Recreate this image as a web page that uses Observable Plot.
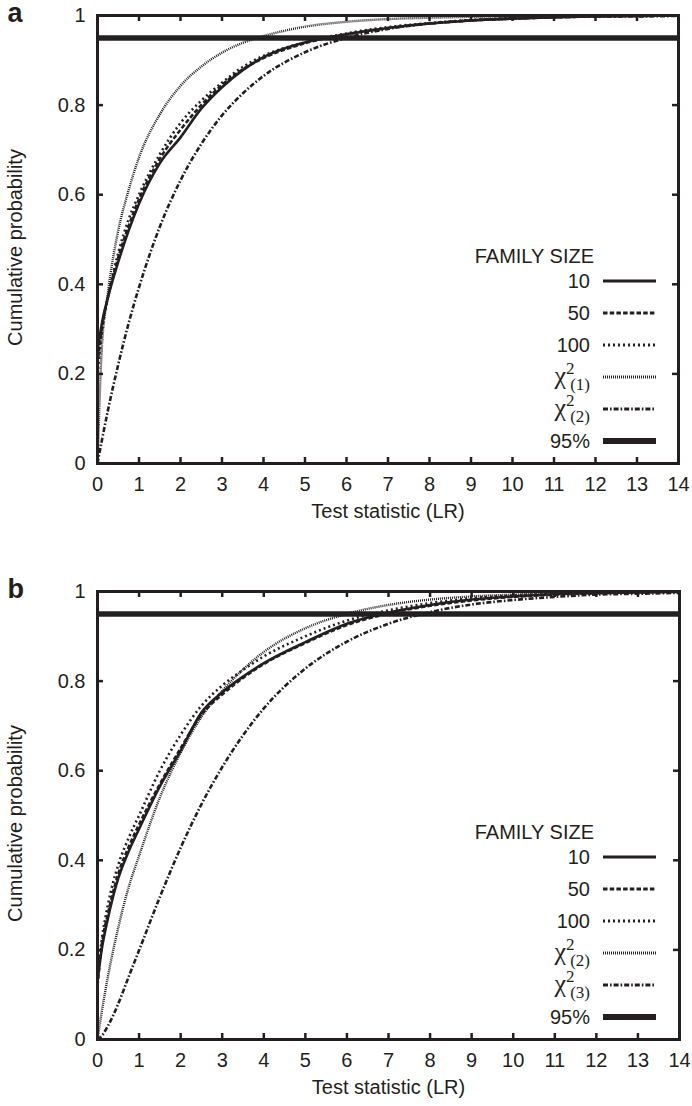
<!DOCTYPE html>
<html><head><meta charset="utf-8">
<script src="https://cdn.jsdelivr.net/npm/d3@7"></script>
<script src="https://cdn.jsdelivr.net/npm/@observablehq/plot@0.6"></script>
<style>
body{margin:0;background:#fff;}
#chart svg{display:block;}
</style>
</head><body><div id="chart"></div>
<script>
// ---------- data ----------
const xs = [0, 0.1, 0.25, 0.5, 0.75, 1, 1.5, 2, 2.5, 3, 3.5, 4, 5, 6, 7, 8, 9, 10, 11, 12, 13, 14];

// panel a
const aSize10  = [0.25, 0.31, 0.37, 0.45, 0.52, 0.58, 0.67, 0.728, 0.792, 0.84, 0.878, 0.907, 0.94, 0.958, 0.972, 0.982, 0.989, 0.993, 0.996, 0.998, 0.999, 1.0];
const aSize50  = [0.22, 0.30, 0.37, 0.46, 0.53, 0.59, 0.68, 0.745, 0.80, 0.845, 0.88, 0.905, 0.938, 0.958, 0.972, 0.982, 0.989, 0.993, 0.996, 0.998, 0.999, 1.0];
const aSize100 = [0.20, 0.29, 0.37, 0.47, 0.545, 0.60, 0.69, 0.76, 0.81, 0.85, 0.885, 0.91, 0.94, 0.96, 0.974, 0.983, 0.99, 0.994, 0.996, 0.998, 0.999, 1.0];
const aChi1    = [0, 0.25, 0.38, 0.52, 0.61, 0.683, 0.779, 0.843, 0.886, 0.917, 0.939, 0.954, 0.975, 0.986, 0.992, 0.995, 0.997, 0.998, 0.999, 0.9995, 0.9997, 1.0];
const aChi2    = [0, 0.049, 0.118, 0.221, 0.313, 0.393, 0.528, 0.632, 0.713, 0.777, 0.826, 0.865, 0.918, 0.95, 0.97, 0.982, 0.989, 0.993, 0.996, 0.998, 0.998, 0.999];

// panel b
const bSize10  = [0.13, 0.20, 0.27, 0.36, 0.42, 0.47, 0.565, 0.645, 0.73, 0.775, 0.81, 0.84, 0.887, 0.928, 0.953, 0.97, 0.982, 0.989, 0.994, 0.997, 0.998, 1.0];
const bSize50  = [0.12, 0.21, 0.28, 0.37, 0.43, 0.48, 0.57, 0.65, 0.725, 0.77, 0.807, 0.838, 0.885, 0.925, 0.951, 0.968, 0.98, 0.988, 0.993, 0.996, 0.998, 0.999];
const bSize100 = [0.14, 0.22, 0.30, 0.39, 0.45, 0.50, 0.60, 0.68, 0.745, 0.79, 0.825, 0.855, 0.90, 0.935, 0.958, 0.974, 0.985, 0.991, 0.995, 0.997, 0.999, 1.0];
const bChi2    = [0, 0.06, 0.14, 0.25, 0.34, 0.41, 0.54, 0.64, 0.72, 0.778, 0.826, 0.865, 0.918, 0.95, 0.97, 0.982, 0.989, 0.993, 0.996, 0.998, 0.999, 0.999];
const bChi3    = [0, 0.008, 0.03, 0.08, 0.14, 0.199, 0.318, 0.428, 0.525, 0.608, 0.679, 0.739, 0.828, 0.888, 0.928, 0.954, 0.971, 0.981, 0.988, 0.993, 0.995, 0.997];

const cutoff = 0.95;
const xTicks = [0, 1, 2, 3, 4, 5, 6, 7, 8, 9, 10, 11, 12, 13, 14];
const yTicks = [0, 0.2, 0.4, 0.6, 0.8, 1];
const legendTitle = "FAMILY SIZE";
const xTitle = "Test statistic (LR)";
const yTitle = "Cumulative probability";

// ---------- styles ----------
const INK = "#231f20";
const styles = {
  solid:   {strokeWidth: 2.6, dash: null},
  dashed:  {strokeWidth: 2.6, dash: "4.5,2.2"},
  dotted:  {strokeWidth: 2.6, dash: "2,3"},
  fine:    {strokeWidth: 2.4, dash: "1,1"},
  dashdot: {strokeWidth: 2.6, dash: "5,2,1.6,2"},
  thick:   {strokeWidth: 5.5, dash: null}
};

const panels = [
  {
    tag: "a", height: 576, marginRight: 14,
    series: [
      {style: "fine",    label: ["χ", "2", "(1)"], values: aChi1},
      {style: "dashdot", label: ["χ", "2", "(2)"], values: aChi2},
      {style: "dotted",  label: "100", values: aSize100},
      {style: "dashed",  label: "50",  values: aSize50},
      {style: "solid",   label: "10",  values: aSize10}
    ]
  },
  {
    tag: "b", height: 530, marginRight: 13,
    series: [
      {style: "fine",    label: ["χ", "2", "(2)"], values: bChi2},
      {style: "dashdot", label: ["χ", "2", "(3)"], values: bChi3},
      {style: "dotted",  label: "100", values: bSize100},
      {style: "dashed",  label: "50",  values: bSize50},
      {style: "solid",   label: "10",  values: bSize10}
    ]
  }
];
const legendOrder = ["solid", "dashed", "dotted", "fine", "dashdot", "thick"];

const W = 692, MT = 15, ML = 97, PLOT_H = 448;
const container = document.getElementById("chart");

for (const p of panels) {
  const plotW = W - ML - p.marginRight;
  const rows = [];
  p.series.forEach((s, si) => s.values.forEach((v, i) => rows.push({si, x: xs[i], y: v})));

  const lineMarks = p.series.map((s, si) => Plot.line(rows.filter(r => r.si === si), {
    x: "x", y: "y", curve: "monotone-x",
    stroke: INK, strokeWidth: styles[s.style].strokeWidth,
    strokeDasharray: styles[s.style].dash, strokeLinecap: "butt", strokeLinejoin: "round"
  }));

  const plot = Plot.plot({
    width: W, height: p.height,
    marginTop: MT, marginLeft: ML, marginRight: p.marginRight, marginBottom: p.height - MT - PLOT_H,
    x: {domain: [0, 14]},
    y: {domain: [0, 1]},
    style: {fontFamily: "'Liberation Sans', Arial, sans-serif", fontSize: "20px", color: INK, background: "#fff", overflow: "visible"},
    marks: [
      Plot.axisX({ticks: xTicks, tickSize: 0, tickPadding: 13, label: null, fontSize: 20, tickFormat: d => String(d)}),
      Plot.axisY({ticks: yTicks, tickSize: 0, tickPadding: 12, label: null, fontSize: 20, tickFormat: d => String(d)}),
      ...lineMarks,
      Plot.ruleY([cutoff], {stroke: INK, strokeWidth: styles.thick.strokeWidth}),
      Plot.tickX(xTicks, {x: d => d, insetTop: PLOT_H - 6, stroke: INK, strokeWidth: 2.5}),
      Plot.tickX(xTicks, {x: d => d, insetBottom: PLOT_H - 6, stroke: INK, strokeWidth: 2.5}),
      Plot.tickY(yTicks, {y: d => d, insetRight: plotW - 6, stroke: INK, strokeWidth: 2.5}),
      Plot.tickY(yTicks, {y: d => d, insetLeft: plotW - 6, stroke: INK, strokeWidth: 2.5}),
      Plot.frame({stroke: INK, strokeWidth: 3}),
      Plot.text([xTitle], {text: d => d, frameAnchor: "bottom", dy: 48, textAnchor: "middle", fontSize: 20, fill: INK, lineAnchor: "middle"}),
      Plot.text([yTitle], {text: d => d, frameAnchor: "left", dx: -82, dy: 8, rotate: -90, textAnchor: "middle", fontSize: 20, fill: INK, lineAnchor: "middle"}),
      Plot.text([p.tag], {text: d => d, frameAnchor: "top-left", dx: -90, dy: -2, textAnchor: "start", fontSize: 27, fontWeight: "bold", fill: INK, lineAnchor: "middle"})
    ]
  });

  // ---------- legend ----------
  const svg = d3.select(plot);
  const g = svg.append("g").attr("fill", INK)
    .attr("font-family", "'Liberation Sans', Arial, sans-serif").attr("font-size", 20);
  const textRight = 590, lx1 = 603, lx2 = 656;
  const rowY = [281, 313, 345, 377, 409, 441];
  g.append("text").attr("x", 594).attr("y", 256).attr("dy", "0.35em")
    .attr("text-anchor", "end").text(legendTitle);
  const entries = legendOrder.map(st => st === "thick"
    ? {style: st, label: "95%"}
    : {style: st, label: p.series.find(s => s.style === st).label});
  entries.forEach((e, i) => {
    const y = rowY[i];
    if (Array.isArray(e.label)) {
      const serif = "'Liberation Serif', 'Times New Roman', serif";
      g.append("text").attr("x", 566).attr("y", y + 7).attr("text-anchor", "end")
        .attr("font-family", serif).attr("font-size", 26).text(e.label[0]);
      g.append("text").attr("x", 566).attr("y", y - 3).attr("text-anchor", "start")
        .attr("font-family", serif).attr("font-size", 17).text(e.label[1]);
      g.append("text").attr("x", textRight).attr("y", y + 13).attr("text-anchor", "end")
        .attr("font-family", serif).attr("font-size", 17).text(e.label[2]);
    } else {
      g.append("text").attr("x", textRight).attr("y", y).attr("dy", "0.35em")
        .attr("text-anchor", "end").text(e.label);
    }
    const s = styles[e.style];
    g.append("line").attr("x1", lx1).attr("x2", lx2).attr("y1", y).attr("y2", y)
      .attr("stroke", INK).attr("stroke-width", e.style === "thick" ? 6 : 3)
      .attr("stroke-dasharray", s.dash);
  });

  container.appendChild(plot);
}
</script>
</body></html>
